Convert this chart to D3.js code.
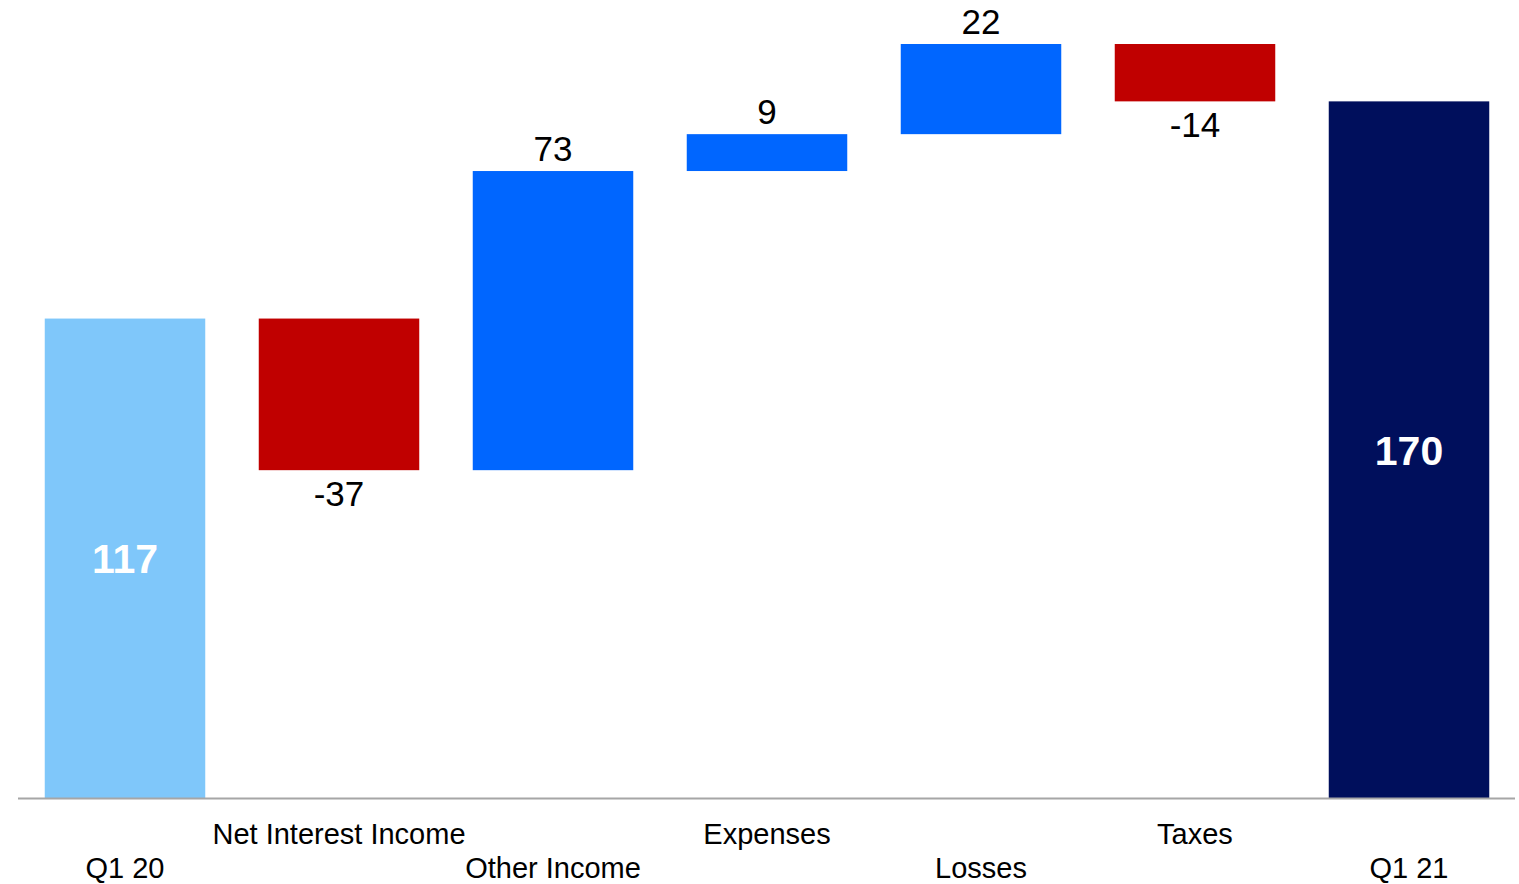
<!DOCTYPE html>
<html>
<head>
<meta charset="utf-8">
<script src="https://cdn.jsdelivr.net/npm/d3@7"></script>
<style>
  html, body { margin: 0; padding: 0; background: #fff; }
  svg { display: block; font-family: "Liberation Sans", Arial, sans-serif; }
</style>
</head>
<body>
<svg id="chart" width="1519" height="884"></svg>
<script>
const categories = ["Q1 20", "Net Interest Income", "Other Income", "Expenses", "Losses", "Taxes", "Q1 21"];
const values = [117, -37, 73, 9, 22, -14, 170];
const kinds = ["total", "delta", "delta", "delta", "delta", "delta", "total"];
const valueLabels = ["117", "-37", "73", "9", "22", "-14", "170"];

const colors = { start: "#7FC7FA", end: "#000F5C", up: "#0066FF", down: "#C00000" };

// Build waterfall segments
let running = 0;
const data = categories.map((c, i) => {
  let y0, y1, color;
  if (kinds[i] === "total") {
    y0 = 0; y1 = values[i]; running = values[i];
    color = i === 0 ? colors.start : colors.end;
  } else {
    y0 = running; y1 = running + values[i]; running = y1;
    color = values[i] >= 0 ? colors.up : colors.down;
  }
  return { cat: c, value: values[i], kind: kinds[i], lo: Math.min(y0, y1), hi: Math.max(y0, y1), color, label: valueLabels[i], i };
});

const svg = d3.select("#chart");
const x = d3.scaleBand().domain(categories).range([18, 1516]).paddingInner(0.25).paddingOuter(0.125);
const yMax = d3.max(data, d => d.hi);
const y = d3.scaleLinear().domain([0, yMax]).range([798, 44]);

svg.selectAll("rect.bar").data(data).enter().append("rect")
  .attr("class", "bar")
  .attr("x", d => x(d.cat))
  .attr("width", x.bandwidth())
  .attr("y", d => y(d.hi))
  .attr("height", d => y(d.lo) - y(d.hi))
  .attr("fill", d => d.color);

// baseline axis
svg.append("line")
  .attr("x1", 18).attr("x2", 1515)
  .attr("y1", y(0) + 0.5).attr("y2", y(0) + 0.5)
  .attr("stroke", "#A6A6A6").attr("stroke-width", 2);

// value labels
svg.selectAll("text.val").data(data).enter().append("text")
  .attr("class", "val")
  .attr("text-anchor", "middle")
  .attr("x", d => x(d.cat) + x.bandwidth() / 2)
  .attr("y", d => {
    if (d.kind === "total") return (y(d.lo) + y(d.hi)) / 2 + 15;
    return d.value >= 0 ? y(d.hi) - 10 : y(d.lo) + 36;
  })
  .attr("font-size", d => d.kind === "total" ? 41 : 35)
  .attr("font-weight", d => d.kind === "total" ? "bold" : "normal")
  .attr("fill", d => d.kind === "total" ? "#fff" : "#000")
  .text(d => d.label);

// category labels (staggered)
svg.selectAll("text.cat").data(data).enter().append("text")
  .attr("class", "cat")
  .attr("text-anchor", "middle")
  .attr("x", d => x(d.cat) + x.bandwidth() / 2)
  .attr("y", d => d.i % 2 === 1 ? 844 : 878)
  .attr("font-size", 29)
  .attr("fill", "#000")
  .text(d => d.cat);
</script>
</body>
</html>
